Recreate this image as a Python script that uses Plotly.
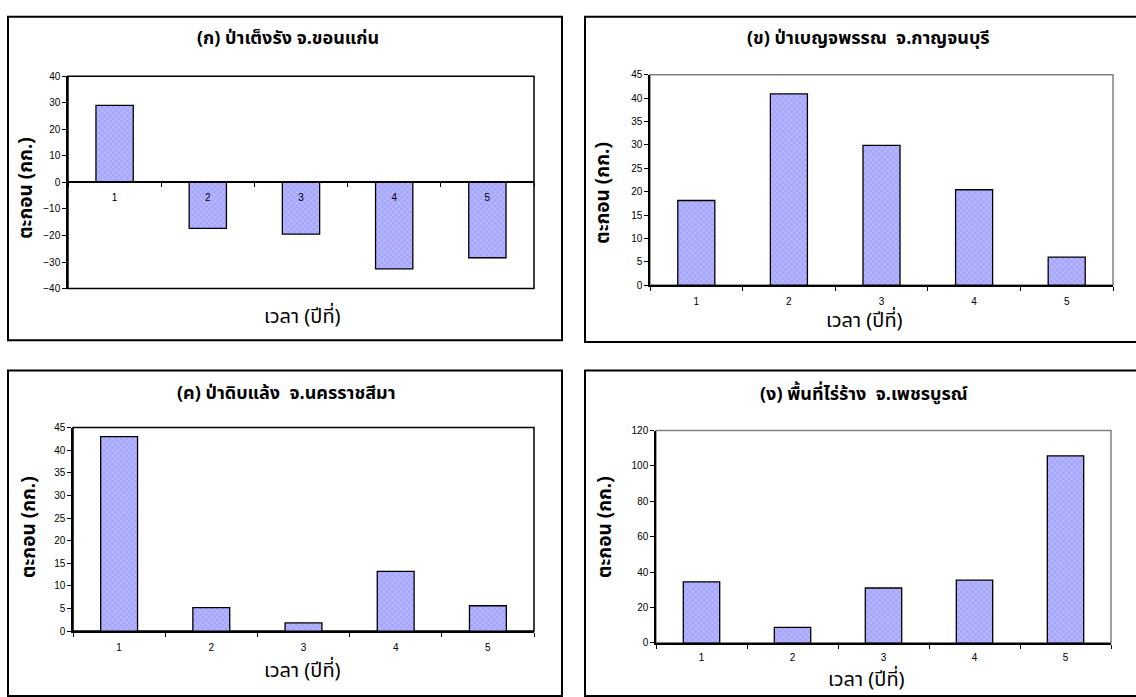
import plotly.graph_objects as go

W, H = 1136, 697

years = ["1", "2", "3", "4", "5"]
vals_a = [29.0, -17.3, -19.5, -32.6, -28.4]
vals_b = [18.1, 40.9, 29.9, 20.4, 6.0]
vals_c = [43.0, 5.2, 1.8, 13.2, 5.6]
vals_d = [34.5, 8.7, 31.0, 35.4, 105.7]

titles = ["(ก) ป่าเต็งรัง จ.ขอนแก่น",
          "(ข) ป่าเบญจพรรณ  จ.กาญจนบุรี",
          "(ค) ป่าดิบแล้ง  จ.นครราชสีมา",
          "(ง) พื้นที่ไร่ร้าง  จ.เพชรบูรณ์"]
x_title = "เวลา (ปีที่)"
y_title = "ตะกอน (กก.)"

THAI = "Tahoma, 'Noto Sans Thai', 'Noto Sans', 'DejaVu Sans', sans-serif"
TICKF = dict(family="Arial, 'Liberation Sans', sans-serif", size=10, color="black")

def px(x):
    return x / W

def py(y):
    return 1 - y / H

# plot-area pixel boxes (left, top, right, bottom)
boxes = [(68, 71.5, 534, 287.5), (650, 70, 1113, 284),
         (73, 429, 534, 636), (656, 432, 1111, 648)]
outer = [(8, 11, 562, 340), (585, 11, 1140, 342),
         (8, 371, 562, 702), (585, 371, 1140, 702)]
yranges = [[-40, 40], [0, 45], [0, 45], [0, 120]]
dticks = [10, 5, 5, 20]
title_pos = [(288, 33), (868, 33), (286, 394), (864, 395)]
xt_pos = [(302, 316), (864, 321), (302, 677), (866, 686)]
yt_pos = [(27, 185), (604, 190), (30, 530), (606, 530)]
standoffs = [6, 6, 6, 4]
frame_col = ["black", "#808080", "black", "#808080"]

fig = go.Figure()
series = [vals_a, vals_b, vals_c, vals_d]
for i, vals in enumerate(series):
    sfx = "" if i == 0 else str(i + 1)
    fig.add_trace(go.Bar(
        x=years, y=vals, xaxis="x" + sfx, yaxis="y" + sfx,
        marker=dict(color="#A6A6FF",
                    line=dict(color="black", width=1.3),
                    pattern=dict(shape="x", fgcolor="#E4E4FF", bgcolor="#A6A6FF",
                                 size=4, solidity=0.3)),
        showlegend=False, hoverinfo="x+y"))

layout = dict(width=W, height=H, margin=dict(l=0, r=0, t=0, b=0),
              paper_bgcolor="white", plot_bgcolor="white", bargap=0.6,
              shapes=[], annotations=[])

for i in range(4):
    sfx = "" if i == 0 else str(i + 1)
    l, t, r, b = boxes[i]
    xd = [px(l), px(r)]
    yd = [py(b), py(t)]
    xa = dict(domain=xd, type="category", anchor="y" + sfx,
              showgrid=False, zeroline=False, showline=True, linecolor="black",
              linewidth=1.5, ticks="outside", ticklen=4, tickcolor="black",
              tickwidth=1, tickson="boundaries", tickfont=TICKF,
              ticklabelstandoff=standoffs[i], fixedrange=True)
    ya = dict(domain=yd, range=yranges[i], dtick=dticks[i], anchor="x" + sfx,
              showgrid=False, zeroline=False, showline=True, linecolor="black",
              linewidth=1.5, ticks="outside", ticklen=4, tickcolor="black",
              tickwidth=1, tickfont=TICKF, fixedrange=True)
    if i == 0:
        xa["anchor"] = "free"
        xa["position"] = (yd[0] + yd[1]) / 2
    layout["xaxis" + sfx] = xa
    layout["yaxis" + sfx] = ya
    layout["shapes"].append(dict(type="rect", xref="x%s domain" % sfx, yref="y%s domain" % sfx,
                                 x0=0, x1=1, y0=0, y1=1, layer="below",
                                 line=dict(color=frame_col[i], width=1.5)))
    ol, ot, orr, ob = outer[i]
    layout["shapes"].append(dict(type="rect", xref="paper", yref="paper",
                                 x0=px(ol), x1=px(orr), y0=py(ob), y1=py(ot),
                                 line=dict(color="black", width=2)))
    tx, ty = title_pos[i]
    layout["annotations"].append(dict(x=px(tx), y=py(ty), xref="paper", yref="paper",
                                      text="<b>%s</b>" % titles[i], showarrow=False,
                                      font=dict(family=THAI, size=18, color="black"),
                                      xanchor="center", yanchor="middle"))
    ax, ay = xt_pos[i]
    layout["annotations"].append(dict(x=px(ax), y=py(ay), xref="paper", yref="paper",
                                      text=x_title, showarrow=False,
                                      font=dict(family=THAI, size=20, color="black"),
                                      xanchor="center", yanchor="middle"))
    yx, yy = yt_pos[i]
    layout["annotations"].append(dict(x=px(yx), y=py(yy), xref="paper", yref="paper",
                                      text="<b>%s</b>" % y_title, showarrow=False, textangle=-90,
                                      font=dict(family=THAI, size=19, color="black"),
                                      xanchor="center", yanchor="middle"))

fig.update_layout(**layout)
fig.write_html("out.html", config={"displayModeBar": False},
               post_script="document.body.style.margin='0';")
